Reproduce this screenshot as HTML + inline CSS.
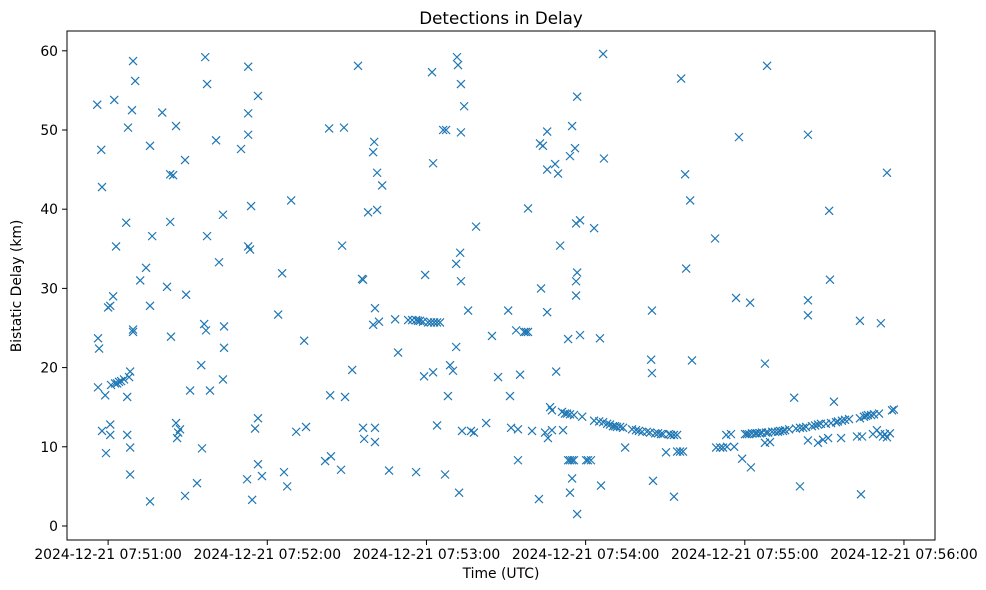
<!DOCTYPE html>
<html><head><meta charset="utf-8"><style>
html,body{margin:0;padding:0;background:#fff;}
svg{display:block;font-family:"DejaVu Sans","Liberation Sans",sans-serif;}
</style></head><body>
<svg id="chart" width="986" height="590" viewBox="0 0 986 590">
<rect x="0" y="0" width="986" height="590" fill="#fff"/>
<text x="501" y="24" font-size="16.7" text-anchor="middle" fill="#000">Detections in Delay</text>
<text x="501" y="578" font-size="13.9" text-anchor="middle" fill="#000">Time (UTC)</text>
<text transform="translate(21,286) rotate(-90)" font-size="13.9" text-anchor="middle" fill="#000">Bistatic Delay (km)</text>
<g id="marks"></g>
<g id="axes"></g>
</svg>
<script>
// seconds after 07:51:00 UTC
const times=[-4.1,-3.8,-3.4,-3.8,-2.6,-2.3,-2.3,-0.8,-1.1,0,0.8,0.8,0.8,1.1,1.9,2.3,2.6,3.0,3.4,4.1,4.9,6.0,6.8,7.2,7.2,7.5,7.9,8.3,8.3,8.3,9.0,9.4,9.4,9.4,10.2,12.1,14.3,15.8,15.8,15.8,16.6,20.4,22.2,23.4,23.4,23.7,24.5,25.6,25.6,26.4,26.0,27.1,29.0,29.4,29.0,30.9,33.5,35.1,35.4,36.2,36.6,37.3,37.3,36.9,38.4,40.7,41.8,43.3,43.7,43.7,43.3,50.1,52.4,52.8,52.8,52.8,52.8,53.5,53.9,54.3,55.4,56.5,56.5,56.5,58.0,64.1,65.6,66.3,67.5,69.0,70.9,73.9,74.6,81.8,83.7,83.3,84.0,87.8,88.2,89.3,88.9,92.0,94.2,95.7,96.1,96.1,96.5,98.0,99.9,100.3,99.9,100.6,100.6,100.6,101.4,101.4,102.1,103.3,105.9,108.2,109.3,113.1,114.6,116.1,116.8,117.6,118.7,120.6,121.7,122.9,124.0,125.1,
116.1,119.1,119.5,122.1,122.5,122.5,124.0,126.3,127.4,127.0,128.1,128.9,130.0,131.2,131.5,131.2,131.9,132.3,132.7,133.0,133.0,133.0,133.4,134.2,135.7,136.8,137.9,138.7,142.5,144.7,147.0,150.8,151.5,151.9,153.8,154.5,154.5,155.3,156.8,157.5,158.3,158.3,159.8,162.4,162.8,163.2,163.9,164.7,165.5,165.5,165.5,165.8,166.6,167.3,167.3,168.5,168.9,169.6,170.4,171.5,171.1,172.2,173.0,173.4,174.1,174.9,174.1,173.4,174.1,174.9,175.6,174.1,174.9,175.6,176.0,176.4,176.4,176.4,176.8,176.8,176.8,177.9,177.9,178.7,180.2,180.9,182.0,183.2,183.2,185.1,185.4,185.8,186.6,186.9,186.6,188.1,189.2,190.3,191.1,191.8,193.0,194.1,194.9,197.5,199.0,200.1,201.3,203.1,204.3,204.7,205.0,205.0,205.4,206.2,207.3,208.4,209.2,210.3,211.4,212.2,213.3,214.5,213.3,214.5,215.6,216.7,216.0,217.5,217.9,219.4,220.1,228.8,229.2,230.7,231.8,233.0,233.3,234.8,236.0,236.7,237.8,239.0,240.1,240.8,241.6,242.3,242.0,242.7,243.9,244.6,245.7,246.5,247.6,247.6,248.4,248.0,248.8,249.5,250.3,251.4,252.5,253.3,254.4,255.2,256.7,258.6,259.3,260.8,260.8,262.0,263.1,263.8,263.8,263.8,263.8,265.3,266.5,267.6,267.6,268.7,269.5,270.6,271.8,272.1,271.4,272.5,273.6,274.4,275.1,276.3,276.6,277.8,279.3,282.3,283.4,283.4,283.8,284.2,284.9,285.7,286.4,287.6,288.3,288.7,289.8,290.6,291.3,291.0,292.1,292.8,293.6,293.6,294.7,295.5,296.2];
// bistatic delay, km
const delays=[53.2,23.7,22.4,17.5,47.5,42.8,12,9.2,16.5,27.6,27.8,12.8,11.5,17.8,29,53.8,18,35.3,18,18.2,18.3,18.5,38.3,16.3,11.5,50.3,18.8,19.5,9.9,6.5,52.5,58.7,24.8,24.5,56.2,31,32.6,48,27.8,3.1,36.6,52.2,30.2,44.4,38.4,23.9,44.3,50.5,13,11.8,11.1,12.2,46.2,29.2,3.8,17.1,5.4,20.3,9.8,25.5,59.2,55.8,36.6,24.7,17.1,48.7,33.3,39.3,25.2,22.5,18.5,47.6,5.9,58,52.1,49.4,35.3,34.9,40.4,3.3,12.3,54.3,13.6,7.8,6.3,26.7,31.9,6.8,5,41.1,11.9,23.4,12.5,8.2,16.5,50.2,8.8,7.1,35.4,16.3,50.3,19.7,58.1,31.2,31.1,12.4,11,39.6,47.2,48.5,25.4,27.5,12.4,10.6,44.6,39.9,25.8,43,7,26.1,21.9,26,26,26,25.9,25.9,25.8,25.7,25.7,25.7,25.7,25.7,
6.8,18.9,31.7,57.3,45.8,19.4,12.7,50,50,6.5,16.4,20.3,19.6,22.6,59.2,33.1,58.2,4.2,34.5,55.8,30.9,49.7,12,53,27.2,12,11.8,37.8,13,24,18.8,27.2,16.4,12.4,24.7,8.3,12.2,19.1,24.5,24.5,24.5,40.1,12,3.4,48.3,30,48,11.8,49.8,45,27,11.1,15,14.6,12.1,45.7,19.5,44.5,35.4,12.1,14.4,14.2,14.2,23.6,46.7,50.5,14.1,8.3,8.3,8.3,8.3,4.2,6,14,47.7,38.2,30.9,29.1,32,54.2,1.5,38.6,24.1,13.8,8.3,8.3,8.3,37.6,13.3,13.2,23.7,5.1,59.6,46.4,13.1,12.9,12.8,12.6,12.6,12.5,12.5,12.4,9.9,12.2,12.1,12,11.9,11.9,11.8,21,27.2,19.3,5.7,11.7,11.7,11.6,11.6,9.3,11.6,11.5,11.5,11.5,3.7,9.4,9.4,9.4,56.5,44.4,32.5,41.1,20.9,36.3,9.9,9.9,9.9,11.5,10,11.6,10,28.8,49.1,8.5,11.6,11.6,11.6,7.4,28.2,11.7,11.7,11.7,11.7,11.8,20.5,10.5,58.1,11.8,11.8,10.6,11.9,11.9,11.9,12,12,12.1,12.2,16.2,12.3,5,12.4,12.4,12.5,49.4,28.5,26.6,10.8,12.6,12.7,10.5,12.8,12.9,10.9,12.9,39.8,31.1,11.1,13,15.7,13.1,13.2,11.1,13.3,13.4,13.5,11.3,25.9,13.6,4,11.3,13.8,13.9,14,14,11.6,14.1,12.1,14.2,25.6,11.6,11.3,11.6,44.6,11.2,11.7,14.6,14.7];
const yTicks=[0,10,20,30,40,50,60];
const xTicks=[0,60,120,180,240,300];
const xTickLabels=["2024-12-21 07:51:00","2024-12-21 07:52:00","2024-12-21 07:53:00","2024-12-21 07:54:00","2024-12-21 07:55:00","2024-12-21 07:56:00"];

const L=67,R=935,T=31,B=540;
const xMin=-15.5,xMax=311.7,yMin=-1.77,yMax=62.5;
const xs=v=>L+(v-xMin)/(xMax-xMin)*(R-L);
const ys=v=>B-(v-yMin)/(yMax-yMin)*(B-T);
const NS="http://www.w3.org/2000/svg";
const marks=document.getElementById('marks');
const axes=document.getElementById('axes');
const n=Math.min(times.length,delays.length);
for(let i=0;i<n;i++){
  const cx=xs(times[i]),cy=ys(delays[i]),s=4;
  const p=document.createElementNS(NS,'path');
  p.setAttribute('d',`M${cx-s},${cy-s}L${cx+s},${cy+s}M${cx-s},${cy+s}L${cx+s},${cy-s}`);
  p.setAttribute('stroke','#1f77b4');
  p.setAttribute('stroke-width','1.2');
  p.setAttribute('fill','none');
  
  
  marks.appendChild(p);
}
const frame=document.createElementNS(NS,'rect');
frame.setAttribute('x',L);frame.setAttribute('y',T);
frame.setAttribute('width',R-L);frame.setAttribute('height',B-T);
frame.setAttribute('fill','none');frame.setAttribute('stroke','#000');frame.setAttribute('stroke-width','1');


axes.appendChild(frame);
yTicks.forEach(v=>{
  const y=ys(v);
  const l=document.createElementNS(NS,'line');
  l.setAttribute('x1',L-5);l.setAttribute('x2',L);l.setAttribute('y1',y);l.setAttribute('y2',y);
  l.setAttribute('stroke','#000');l.setAttribute('stroke-width','1');
  
  
  axes.appendChild(l);
  const t=document.createElementNS(NS,'text');
  t.setAttribute('x',L-9);t.setAttribute('y',y+5);t.setAttribute('font-size','13.9');t.setAttribute('text-anchor','end');
  t.textContent=v;
  
  
  axes.appendChild(t);
});
xTicks.forEach((v,i)=>{
  const x=xs(v);
  const l=document.createElementNS(NS,'line');
  l.setAttribute('x1',x);l.setAttribute('x2',x);l.setAttribute('y1',B);l.setAttribute('y2',B+5);
  l.setAttribute('stroke','#000');l.setAttribute('stroke-width','1');
  
  
  axes.appendChild(l);
  const t=document.createElementNS(NS,'text');
  t.setAttribute('x',x);t.setAttribute('y',B+19);t.setAttribute('font-size','13.9');t.setAttribute('text-anchor','middle');
  t.textContent=xTickLabels[i];
  
  
  axes.appendChild(t);
});
</script>
</body></html>
